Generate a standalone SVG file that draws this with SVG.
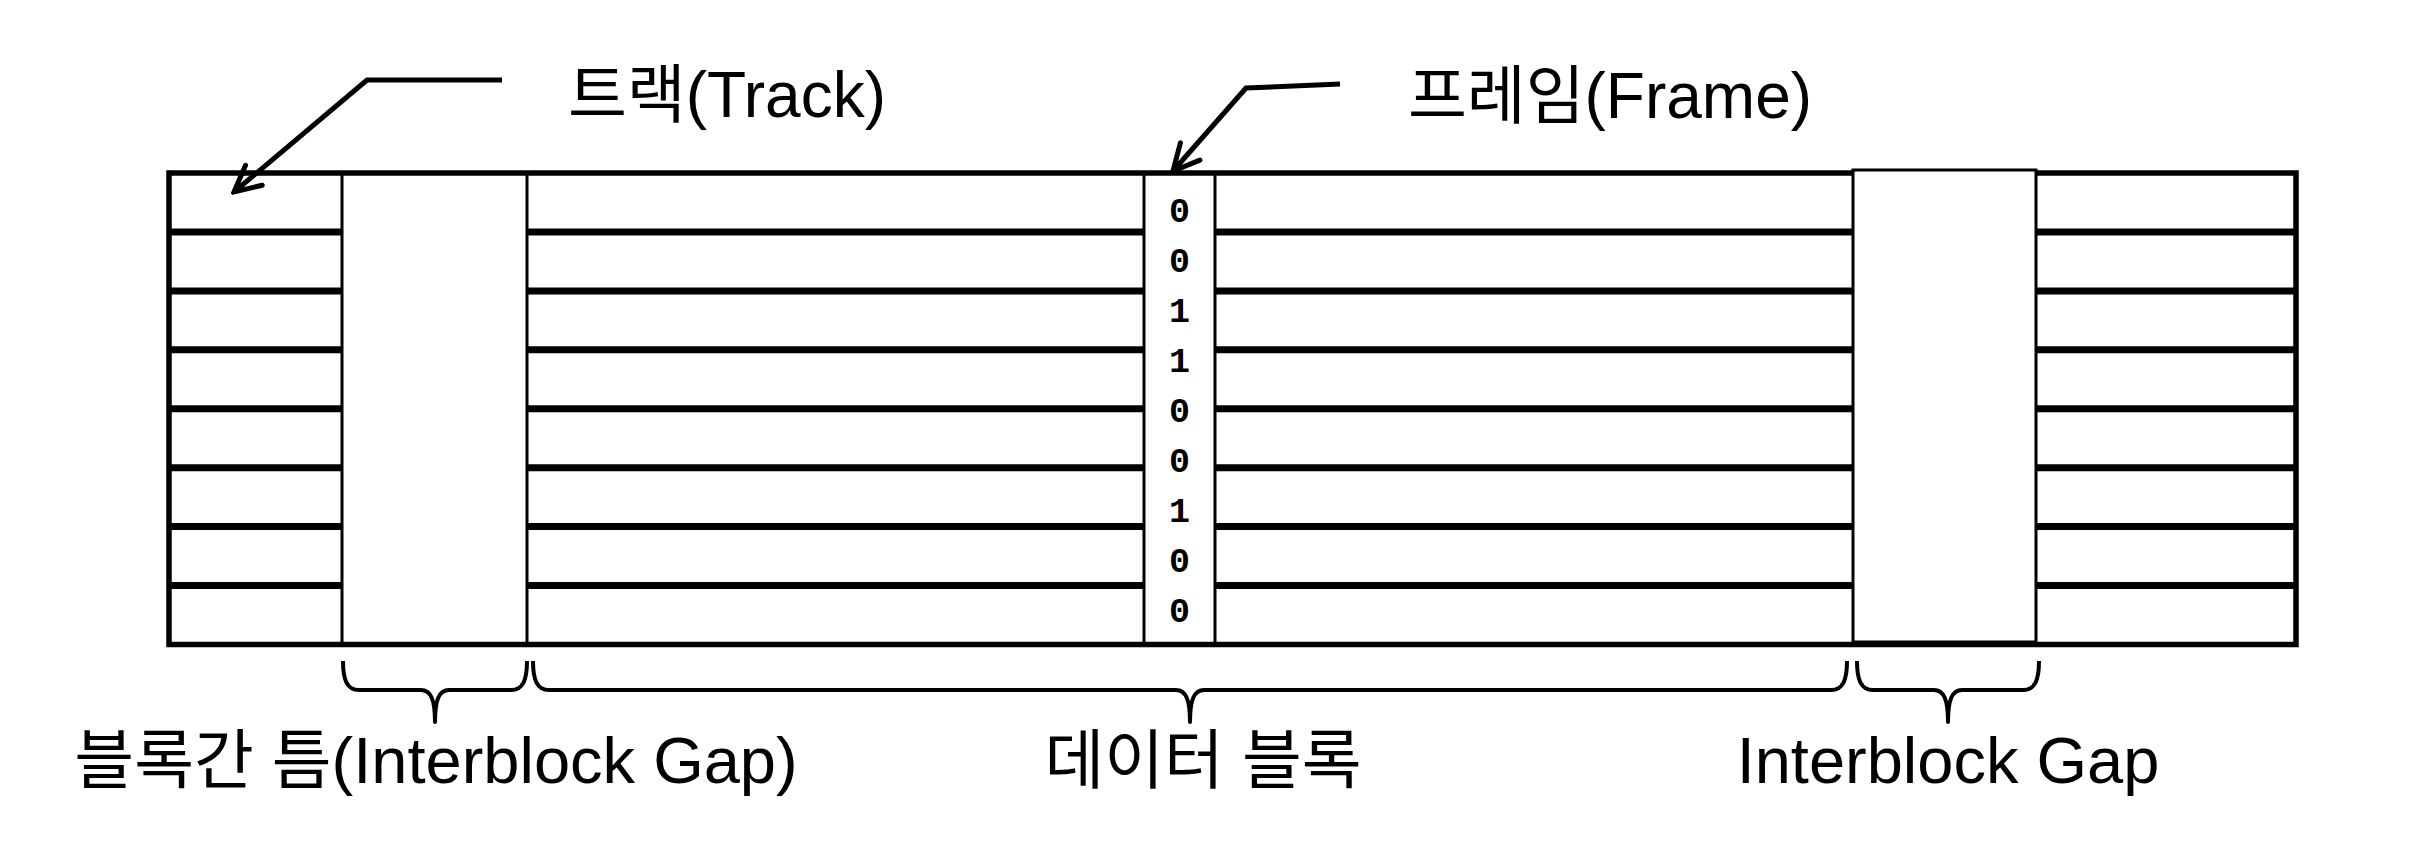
<svg xmlns="http://www.w3.org/2000/svg" width="2424" height="848" viewBox="0 0 2424 848">
<defs>
<style>
.lbl{font-family:"Liberation Sans","Noto Sans CJK KR",sans-serif;font-size:64px;fill:#000;text-anchor:middle}
.lbl2{font-size:65px}
.bit{font-family:"Liberation Mono","DejaVu Sans Mono",monospace;font-weight:bold;font-size:35px;fill:#000;text-anchor:middle}
.track{stroke:#000;stroke-width:7;fill:none}
.box{fill:#fff;stroke:#000;stroke-width:3}
.brace{fill:none;stroke:#000;stroke-width:4;stroke-linejoin:round}
.lead{fill:none;stroke:#000;stroke-width:5;stroke-linejoin:miter}
</style>
<marker id="arr" markerUnits="userSpaceOnUse" viewBox="-2 -16 32 32" markerWidth="32" markerHeight="32" refX="27" refY="0" orient="auto">
<path d="M1,-13 L27,0 L1,13" fill="none" stroke="#000" stroke-width="5" stroke-linecap="round" stroke-linejoin="miter"/>
</marker>
</defs>
<rect width="2424" height="848" fill="#fff"/>
<g id="tape">
<line class="track" x1="169" y1="231.9" x2="2296" y2="231.9"/>
<line class="track" x1="169" y1="290.9" x2="2296" y2="290.9"/>
<line class="track" x1="169" y1="349.8" x2="2296" y2="349.8"/>
<line class="track" x1="169" y1="408.8" x2="2296" y2="408.8"/>
<line class="track" x1="169" y1="467.7" x2="2296" y2="467.7"/>
<line class="track" x1="169" y1="526.6" x2="2296" y2="526.6"/>
<line class="track" x1="169" y1="585.6" x2="2296" y2="585.6"/>
</g>
<g id="gap-left"><rect class="box" x="342" y="173" width="185" height="471"/></g>
<g id="frame-column">
<rect class="box" x="1144" y="173" width="71" height="471"/>
<text class="bit" x="1179.5" y="222">0</text>
<text class="bit" x="1179.5" y="272">0</text>
<text class="bit" x="1179.5" y="322">1</text>
<text class="bit" x="1179.5" y="372">1</text>
<text class="bit" x="1179.5" y="422">0</text>
<text class="bit" x="1179.5" y="472">0</text>
<text class="bit" x="1179.5" y="522">1</text>
<text class="bit" x="1179.5" y="572">0</text>
<text class="bit" x="1179.5" y="622">0</text>
</g>
<g id="tape-border"><rect x="169" y="173" width="2127" height="471.5" fill="none" stroke="#000" stroke-width="5.5"/></g>
<g id="gap-right"><rect class="box" x="1853" y="170" width="183" height="472"/></g>
<g id="braces">
<path class="brace" d="M343,661 C343,680 347,690 359,690 L421,690 C431,690 435,700 435,722 C435,700 439,690 449,690 L511,690 C523,690 527,680 527,661"/>
<path class="brace" d="M533,661 C533,680 537,690 549,690 L1176,690 C1186,690 1190,700 1190,722 C1190,700 1194,690 1204,690 L1831,690 C1843,690 1847,680 1847,661"/>
<path class="brace" d="M1857,661 C1857,680 1861,690 1873,690 L1934,690 C1944,690 1948,700 1948,722 C1948,700 1952,690 1962,690 L2023,690 C2035,690 2039,680 2039,661"/>
</g>
<g id="connectors">
<polyline class="lead" points="502,80 367,80 234,192" marker-end="url(#arr)"/>
<polyline class="lead" points="1340,84 1246,88 1173,171" marker-end="url(#arr)"/>
</g>
<g id="track-label"><text class="lbl" x="727" y="117">트랙(Track)</text></g>
<g id="frame-label"><text class="lbl" x="1610" y="118">프레임(Frame)</text></g>
<g id="gap-left-label"><text class="lbl lbl2" x="436" y="783">블록간 틈(Interblock Gap)</text></g>
<g id="block-label"><text class="lbl lbl2" x="1203" y="783">데이터 블록</text></g>
<g id="gap-right-label"><text class="lbl lbl2" x="1948" y="783">Interblock Gap</text></g>
</svg>
